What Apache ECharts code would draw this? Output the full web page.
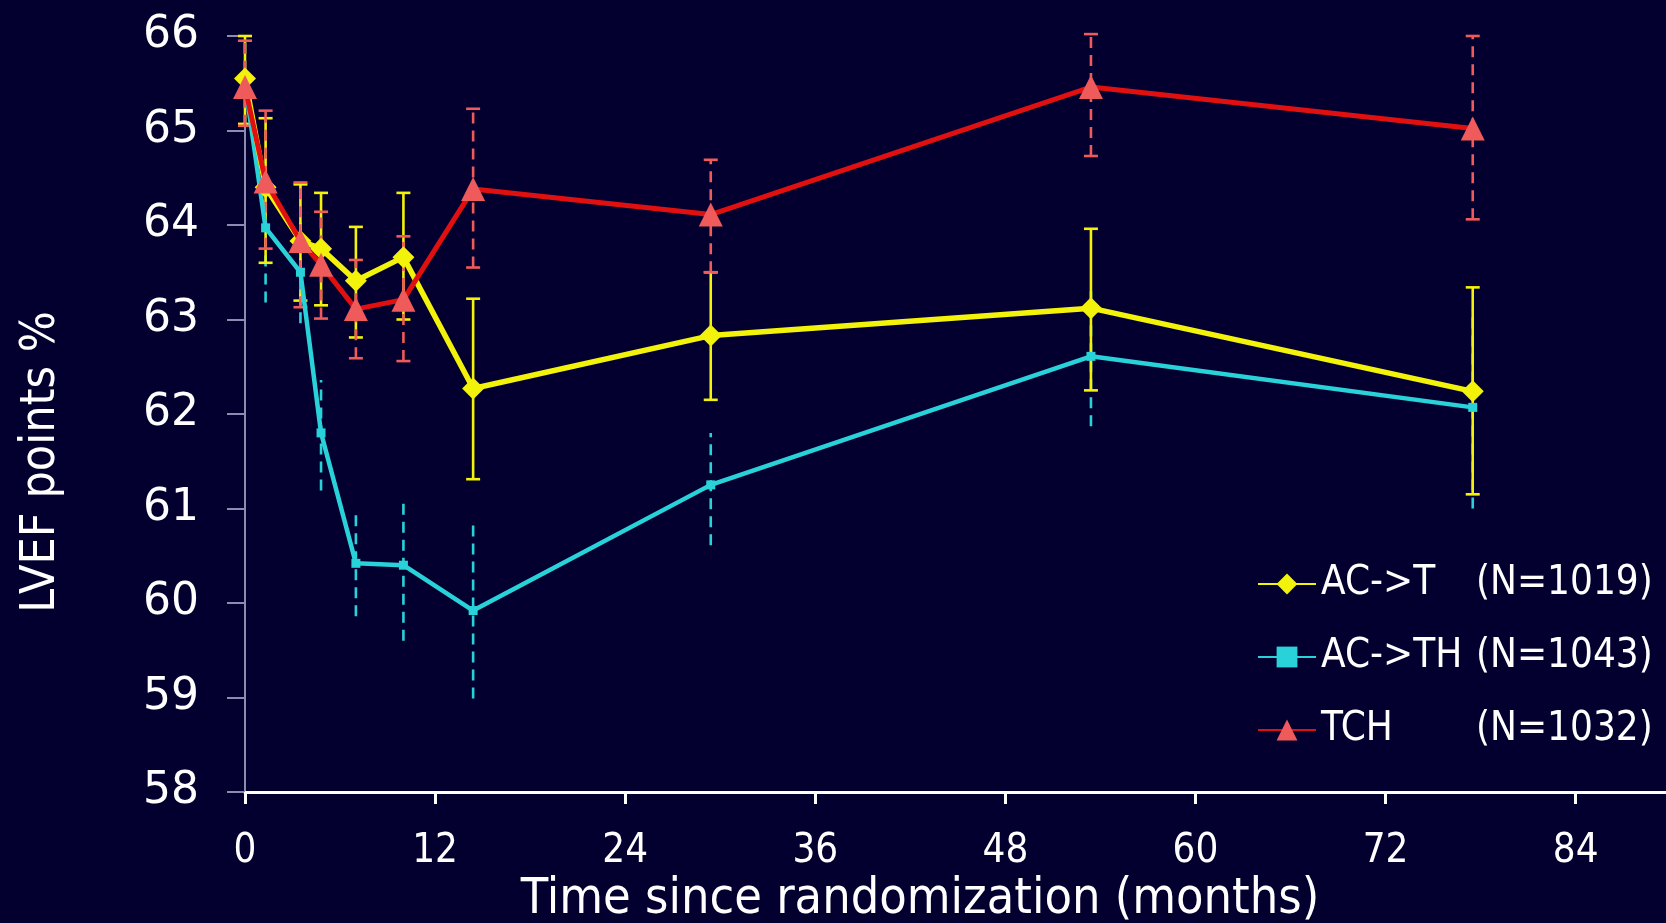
<!DOCTYPE html>
<html><head><meta charset="utf-8">
<script src="https://cdn.jsdelivr.net/npm/echarts@6/dist/echarts.min.js"></script>
<style>html,body{margin:0;padding:0;background:#030030}#c{width:1666px;height:923px}</style>
</head><body><div id="c"></div>
<script>
// ---- data ----
const months = [0, 1.3, 3.5, 4.8, 7, 10, 14.4, 29.4, 53.4, 77.5];
const seriesNames = ['AC->T', 'AC->TH', 'TCH'];
const seriesN = ['(N=1019)', '(N=1043)', '(N=1032)'];
const acT      = [65.55, 64.40, 63.83, 63.75, 63.41, 63.66, 62.27, 62.83, 63.12, 62.24];
const acTLow   = [65.07, 63.60, 63.20, 63.15, 62.81, 63.00, 61.31, 62.15, 62.25, 61.15];
const acTHigh  = [66.00, 65.13, 64.43, 64.34, 63.98, 64.34, 63.22, 63.50, 63.96, 63.34];
const acTH     = [65.50, 63.97, 63.50, 61.80, 60.42, 60.40, 59.92, 61.25, 62.61, 62.07];
const acTHLow  = [65.05, 63.18, 62.96, 61.19, 59.86, 59.60, 58.99, 60.61, 61.87, 61.00];
const acTHHigh = [65.95, 64.77, 64.04, 62.36, 60.96, 61.10, 60.85, 61.80, 63.30, 63.10];
const tch      = [65.46, 64.46, 63.83, 63.58, 63.11, 63.21, 64.38, 64.11, 65.46, 65.02];
const tchLow   = [65.05, 63.75, 63.13, 63.01, 62.59, 62.56, 63.55, 63.50, 64.73, 64.06];
const tchHigh  = [65.95, 65.21, 64.45, 64.14, 63.63, 63.88, 65.23, 64.69, 66.02, 66.00];
const xTicks = [0, 12, 24, 36, 48, 60, 72, 84];
const xTitle = 'Time since randomization (months)';
const yTitle = 'LVEF points %';

const BG = '#030030';
const YEL = '#f2f20a', CYA = '#28d2d8', RED = '#e01010', SAL = '#ef5a5a';
const FONT_C = 'DejaVu Sans Condensed, DejaVu Sans, sans-serif';

function pairs(ys) { return months.map((m, i) => [m, ys[i]]); }

function errSeries(low, high, color, dashed, cap) {
  return {
    type: 'custom', silent: true, z: 1, clip: false,
    data: months.map((m, i) => [m, low[i], high[i]]),
    encode: { x: 0, y: [1, 2] },
    renderItem(params, api) {
      const x = api.value(0);
      const p1 = api.coord([x, api.value(1)]);
      const p2 = api.coord([x, api.value(2)]);
      const st = { stroke: color, lineWidth: 2.6, lineDash: dashed ? [11, 7] : null };
      const ch = [{ type: 'line', shape: { x1: p1[0], y1: p1[1], x2: p2[0], y2: p2[1] }, style: st }];
      if (cap) {
        const w = 7;
        const cs = { stroke: color, lineWidth: 2.6 };
        ch.push({ type: 'line', shape: { x1: p1[0] - w, y1: p1[1], x2: p1[0] + w, y2: p1[1] }, style: cs });
        ch.push({ type: 'line', shape: { x1: p2[0] - w, y1: p2[1], x2: p2[0] + w, y2: p2[1] }, style: cs });
      }
      return { type: 'group', children: ch };
    }
  };
}

const chart = echarts.init(document.getElementById('c'));
chart.setOption({
  backgroundColor: BG,
  animation: false,
  grid: { left: 245, right: 0, top: 36, bottom: 131, containLabel: false },
  graphic: [
    {
      type: 'text', x: 42, y: 462, rotation: Math.PI / 2,
      style: { text: yTitle, fill: '#ffffff', font: '48px ' + FONT_C, textAlign: 'center', textVerticalAlign: 'middle' }
    },
    {
      type: 'text', x: 920, y: 900,
      style: { text: xTitle, fill: '#ffffff', font: '50px ' + FONT_C, textAlign: 'center', textVerticalAlign: 'middle' }
    }
  ],
  xAxis: {
    type: 'value', min: 0, max: 89.7, interval: 12,
    axisLine: { lineStyle: { color: '#ffffff', width: 3 } },
    axisTick: { length: 12, lineStyle: { color: '#ffffff', width: 3 } },
    axisLabel: {
      color: '#ffffff', fontFamily: FONT_C, fontSize: 40, margin: 40,
      showMaxLabel: false,
      formatter: v => (xTicks.indexOf(v) >= 0 ? String(v) : '')
    },
    splitLine: { show: false }
  },
  yAxis: {
    type: 'value', min: 58, max: 66, interval: 1,
    axisLine: { show: true, lineStyle: { color: '#8c8cb0', width: 2 } },
    axisTick: { show: true, length: 18, lineStyle: { color: '#8c8cb0', width: 2 } },
    axisLabel: { color: '#ffffff', fontFamily: 'DejaVu Sans', fontSize: 44, margin: 46 },
    splitLine: { show: false }
  },
  legend: {
    orient: 'vertical', left: 1252, top: 559, itemWidth: 58, itemHeight: 26, itemGap: 33,
    data: seriesNames,
    formatter: name => '{a|' + name + '}{b|' + seriesN[seriesNames.indexOf(name)] + '}',
    textStyle: {
      color: '#ffffff', fontFamily: FONT_C, fontSize: 40, padding: [0, 0, 0, 0],
      rich: {
        a: { color: '#ffffff', fontFamily: FONT_C, fontSize: 40, width: 155, lineHeight: 44 },
        b: { color: '#ffffff', fontFamily: FONT_C, fontSize: 40, lineHeight: 44 }
      }
    }
  },
  series: [
    errSeries(acTHLow, acTHHigh, CYA, true, false),
    errSeries(acTLow, acTHigh, YEL, false, true),
    errSeries(tchLow, tchHigh, SAL, true, true),
    {
      name: seriesNames[1], type: 'line', z: 3, data: pairs(acTH),
      symbol: 'rect', symbolSize: 9, lineStyle: { color: CYA, width: 4.5 },
      itemStyle: { color: CYA }
    },
    {
      name: seriesNames[0], type: 'line', z: 4, data: pairs(acT),
      symbol: 'diamond', symbolSize: 22, lineStyle: { color: YEL, width: 5.5 },
      itemStyle: { color: YEL }
    },
    {
      name: seriesNames[2], type: 'line', z: 5, data: pairs(tch),
      symbol: 'triangle', symbolSize: 24, lineStyle: { color: RED, width: 5 },
      itemStyle: { color: SAL }
    }
  ]
});
</script>
</body></html>
